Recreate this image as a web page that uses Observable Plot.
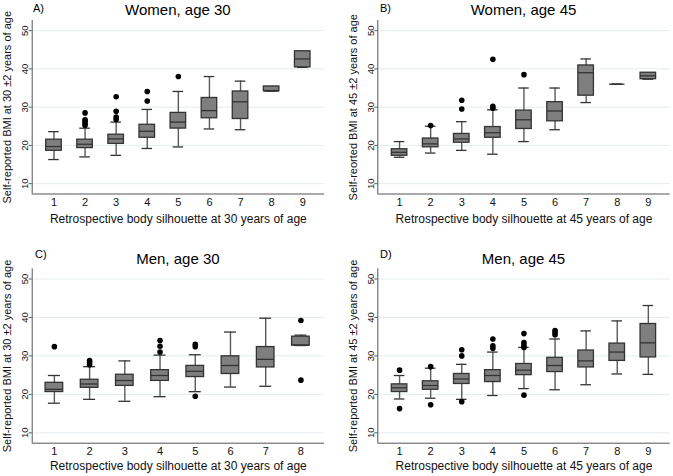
<!DOCTYPE html>
<html><head><meta charset="utf-8">
<script src="https://cdn.jsdelivr.net/npm/d3@7"></script>
<script src="https://cdn.jsdelivr.net/npm/@observablehq/plot@0.6"></script>
<style>
body{margin:0;background:#fff;}
#wrap{position:relative;width:673px;height:476px;overflow:hidden;font-family:"Liberation Sans",Arial,sans-serif;background:#fff}
.panel{position:absolute}
.title{position:absolute;font-size:15px;transform:translate(-50%,-50%);white-space:nowrap;color:#000}
.tag{position:absolute;font-size:11px;transform:translate(0,-50%);color:#000}
svg g[aria-label="x-axis label"] text{font-size:12px}
svg g[aria-label="y-axis label"] text{font-size:11px}
svg g[aria-label="y-axis tick label"] text{font-size:9.5px}
svg g[aria-label="x-axis tick label"] text{font-size:11px}
</style></head><body><div id="wrap"></div>
<script>
// ---------- Data ----------
const yTicks = [10, 20, 30, 40, 50];

// A) Women, age 30
const catsA = [1, 2, 3, 4, 5, 6, 7, 8, 9];
const loA  = [16.3, 17.0, 17.4, 19.2, 19.6, 24.3, 24.1, 34.2, 40.4];
const q1A  = [18.6, 19.3, 20.4, 22.0, 24.4, 27.1, 26.9, 34.2, 40.4];
const medA = [19.7, 20.3, 21.7, 23.7, 26.1, 29.1, 31.4, 34.2, 42.6];
const q3A  = [21.5, 21.5, 22.8, 25.4, 28.5, 32.4, 34.1, 35.4, 44.6];
const hiA  = [23.6, 24.5, 26.1, 29.4, 34.1, 38.0, 36.8, 35.4, 44.6];
const outCatA = [2, 2, 2, 2, 2, 3, 3, 3, 3, 4, 4, 5];
const outValA = [28.5, 26.7, 26.3, 25.8, 25.3, 32.7, 28.9, 27.4, 26.8, 34.1, 31.6, 38.0];

// B) Women, age 45
const catsB = [1, 2, 3, 4, 5, 6, 7, 8, 9];
const loB  = [16.9, 18.0, 18.7, 17.7, 21.0, 24.1, 31.2, 36.0, 37.3];
const q1B  = [17.3, 19.5, 20.7, 22.0, 24.3, 26.3, 33.0, 36.0, 37.3];
const medB = [18.2, 20.4, 21.7, 23.3, 26.7, 29.0, 39.0, 36.0, 38.2];
const q3B  = [19.0, 21.8, 23.0, 24.8, 29.1, 31.3, 40.9, 36.0, 39.0];
const hiB  = [21.0, 25.0, 26.2, 29.3, 35.0, 35.0, 42.6, 36.0, 39.0];
const outCatB = [2, 3, 3, 4, 4, 4, 5];
const outValB = [25.2, 31.8, 29.5, 42.5, 30.2, 29.7, 38.5];

// C) Men, age 30
const catsC = [1, 2, 3, 4, 5, 6, 7, 8];
const loC  = [17.7, 18.7, 18.2, 19.4, 20.7, 21.9, 22.1, 32.7];
const q1C  = [20.6, 21.7, 22.2, 23.5, 24.5, 25.3, 27.0, 32.7];
const medC = [21.3, 22.7, 23.6, 24.9, 26.0, 27.5, 29.1, 32.8];
const q3C  = [23.0, 23.8, 25.1, 26.3, 27.4, 29.9, 32.3, 35.0];
const hiC  = [24.9, 27.2, 28.7, 30.2, 30.3, 36.2, 39.8, 35.4];
const outCatC = [1, 2, 2, 2, 4, 4, 4, 5, 5, 5, 8, 8];
const outValC = [32.4, 28.8, 28.3, 27.7, 34.0, 32.5, 31.0, 33.0, 32.4, 19.5, 39.2, 23.7];

// D) Men, age 45
const catsD = [1, 2, 3, 4, 5, 6, 7, 8, 9];
const loD  = [18.8, 19.0, 18.7, 19.7, 21.5, 21.2, 22.5, 25.3, 25.2];
const q1D  = [20.6, 21.2, 22.7, 23.2, 25.0, 25.8, 27.0, 28.7, 29.6];
const medD = [21.7, 22.3, 24.0, 24.9, 26.3, 27.5, 28.7, 31.0, 33.4];
const q3D  = [22.6, 23.4, 25.3, 26.3, 27.9, 29.5, 31.4, 33.2, 38.3];
const hiD  = [24.9, 26.8, 27.8, 31.0, 32.2, 34.4, 36.5, 39.1, 43.1];
const outCatD = [1, 1, 2, 2, 3, 3, 3, 4, 4, 4, 5, 5, 5, 5, 5, 6, 6, 6];
const outValD = [26.3, 16.3, 27.2, 17.3, 31.6, 30.0, 18.1, 34.4, 32.6, 32.0, 35.8, 33.5, 32.8, 32.2, 19.8, 36.6, 36.1, 35.5];

// ---------- Drawing ----------
const font = '"Liberation Sans", Arial, sans-serif';
const yDomain = [7.3, 52.65];

function boxPlot(o) {
  const rows = o.cats.map((c, i) => ({c, lo: o.lo[i], q1: o.q1[i], med: o.med[i], q3: o.q3[i], hi: o.hi[i]}));
  const outs = o.outCat.map((c, i) => ({c, v: o.outVal[i]}));
  const hw = 0.25, cw = 0.17;
  return Plot.plot({
    width: o.width, height: o.height,
    marginLeft: o.mL, marginRight: o.mR, marginTop: o.mT, marginBottom: o.mB,
    style: {fontFamily: font, fontSize: "11px", color: "#111", background: "transparent", overflow: "visible"},
    x: {domain: o.xDomain},
    y: {domain: yDomain},
    marks: [
      Plot.gridY(yTicks, {stroke: "#e4ecee", strokeOpacity: 1, strokeWidth: 1}),
      Plot.ruleX([o.xDomain[0]], {stroke: "#555", strokeWidth: 1}),
      Plot.ruleY([yDomain[0]], {stroke: "#555", strokeWidth: 1}),
      Plot.ruleX(rows, {x: "c", y1: "lo", y2: "q1", stroke: "#5a5a5a", strokeWidth: 1.4}),
      Plot.ruleX(rows, {x: "c", y1: "q3", y2: "hi", stroke: "#5a5a5a", strokeWidth: 1.4}),
      Plot.ruleY(rows, {y: "lo", x1: d => d.c - cw, x2: d => d.c + cw, stroke: "#333", strokeWidth: 1.3}),
      Plot.ruleY(rows, {y: "hi", x1: d => d.c - cw, x2: d => d.c + cw, stroke: "#333", strokeWidth: 1.3}),
      Plot.rect(rows, {x1: d => d.c - hw, x2: d => d.c + hw, y1: "q1", y2: "q3", fill: "#7f7f7f", stroke: "#333", strokeWidth: 1.3}),
      Plot.ruleY(rows, {y: "med", x1: d => d.c - hw, x2: d => d.c + hw, stroke: "#333", strokeWidth: 1.3}),
      Plot.dot(outs, {x: "c", y: "v", r: 2.8, fill: "#000", stroke: "none"}),
      Plot.axisX({ticks: o.cats, tickFormat: d => String(d), tickSize: 0, tickPadding: 4,
        label: o.xLabel, labelAnchor: "center", labelArrow: "none", labelOffset: o.xlo, fill: "#111"}),
      Plot.axisY({ticks: yTicks, tickRotate: -90, tickSize: 3, tickPadding: 1,
        label: o.yLabel, labelAnchor: "center", labelArrow: "none", labelOffset: 29, fill: "#111", stroke: "#555"})
    ]
  });
}

const wrap = document.getElementById("wrap");
function addPanel(o) {
  const div = document.createElement("div");
  div.className = "panel";
  div.style.left = o.left + "px";
  div.style.top = o.top + "px";
  div.appendChild(boxPlot(o));
  wrap.appendChild(div);
  const t = document.createElement("div");
  t.className = "title"; t.textContent = o.title;
  t.style.left = o.tx + "px"; t.style.top = o.ty + "px";
  wrap.appendChild(t);
  const g = document.createElement("div");
  g.className = "tag"; g.textContent = o.tag;
  g.style.left = o.gx + "px"; g.style.top = o.gy + "px";
  wrap.appendChild(g);
}

addPanel({left: 0, top: 0, width: 336, height: 236, mL: 31.7, mR: 12, mT: 20, mB: 42.5, xDomain: [0.3, 9.7], xlo: 28.5,
  cats: catsA, lo: loA, q1: q1A, med: medA, q3: q3A, hi: hiA, outCat: outCatA, outVal: outValA,
  xLabel: "Retrospective body silhouette at 30 years of age", yLabel: "Self-reported BMI at 30 \u00b12 years of age",
  title: "Women, age 30", tx: 177.9, ty: 9.3, tag: "A)", gx: 33, gy: 8});
addPanel({left: 336, top: 0, width: 337, height: 236, mL: 41.3, mR: 3.4, mT: 20, mB: 42.5, xDomain: [0.3, 9.7], xlo: 28.5,
  cats: catsB, lo: loB, q1: q1B, med: medB, q3: q3B, hi: hiB, outCat: outCatB, outVal: outValB,
  xLabel: "Retrospective body silhouette at 45 years of age", yLabel: "Self-reorted BMI at 45 \u00b12 years of age",
  title: "Women, age 45", tx: 523.5, ty: 9.3, tag: "B)", gx: 380, gy: 8});
addPanel({left: 0, top: 240, width: 336, height: 236, mL: 31.7, mR: 12, mT: 28.3, mB: 33.3, xDomain: [0.37, 8.67], xlo: 27,
  cats: catsC, lo: loC, q1: q1C, med: medC, q3: q3C, hi: hiC, outCat: outCatC, outVal: outValC,
  xLabel: "Retrospective body silhouette at 30 years of age", yLabel: "Self-reported BMI at 30 \u00b12 years of age",
  title: "Men, age 30", tx: 177.9, ty: 257.7, tag: "C)", gx: 35, gy: 254.3});
addPanel({left: 336, top: 240, width: 337, height: 236, mL: 41.3, mR: 3.4, mT: 28.3, mB: 33.3, xDomain: [0.3, 9.7], xlo: 27,
  cats: catsD, lo: loD, q1: q1D, med: medD, q3: q3D, hi: hiD, outCat: outCatD, outVal: outValD,
  xLabel: "Retrospective body silhouette at 45 years of age", yLabel: "Self-reported BMI at 45 \u00b12 years of age",
  title: "Men, age 45", tx: 523.5, ty: 257.7, tag: "D)", gx: 380, gy: 253.5});
</script></body></html>
